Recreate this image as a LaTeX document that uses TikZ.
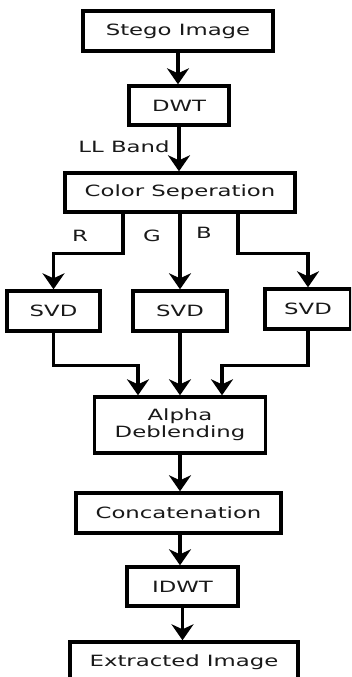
\documentclass[tikz,border=0pt]{standalone}
\usepackage{fontspec}
\usetikzlibrary{arrows.meta}
\newfontfamily\dfont[FakeStretch=1.47]{DejaVu Sans}
\begin{document}
\begin{tikzpicture}[x=1pt,y=-1pt,
  box/.style={draw=black,line width=3.4pt,fill=white,inner sep=0pt,align=center,
    font=\dfont\fontsize{15.5}{16}\selectfont,text=black!90},
  lbl/.style={font=\dfont\fontsize{15.5}{16}\selectfont,text=black!90,inner sep=0pt},
  arr/.style={line width=3.2pt,-{Stealth[length=16pt,width=22pt,inset=5pt]}}]
\useasboundingbox (0,0) rectangle (351,677);
\clip (0,0) rectangle (351,677);
\fill[white] (0,0) rectangle (351,677);
\node[box,minimum width=190pt,minimum height=40pt] (stego) at (178,31) {Stego Image};
\node[box,minimum width=100pt,minimum height=39pt] (dwt) at (179,105.5) {DWT};
\node[box,minimum width=230pt,minimum height=39pt] (cs) at (180,192.5) {Color Seperation};
\node[box,minimum width=93pt,minimum height=40pt] (svd1) at (53.5,311) {SVD};
\node[box,minimum width=94pt,minimum height=40pt] (svd2) at (180,311) {SVD};
\node[box,minimum width=86pt,minimum height=40pt] (svd3) at (308,309) {SVD};
\node[box,minimum width=171pt,minimum height=56pt] (alpha) at (180,425) {Alpha\\[1pt]Deblending};
\node[box,minimum width=205pt,minimum height=40pt] (concat) at (178.5,513) {Concatenation};
\node[box,minimum width=111pt,minimum height=39pt] (idwt) at (182.5,586.5) {IDWT};
\node[box,minimum width=228pt,minimum height=56pt,text depth=0pt] (extract) at (184,670) {};
\node[lbl] (extxt) at (184,662) {Extracted Image};
\node[lbl] (ll) at (124,147) {LL Band};
\node[lbl] (r) at (80,236) {R};
\node[lbl] (g) at (152,236) {G};
\node[lbl] (b) at (204,233) {B};
\draw[arr] (stego.south) -- (stego.south |- dwt.north);
\draw[arr] (dwt.south) -- (dwt.south |- cs.north);
\draw[arr] ([xshift=-57pt]cs.south) -- ++(0,-40pt) -| (svd1.north);
\draw[arr] (cs.south) -- (svd2.north);
\draw[arr] ([xshift=58pt]cs.south) -- ++(0,-40pt) -| (svd3.north);
\draw[arr] (svd1.south) -- ++(0,-33pt) -| ([xshift=-42pt]alpha.north);
\draw[arr] (svd2.south) -- (alpha.north);
\draw[arr] (svd3.south) -- ++(0,-35pt) -| ([xshift=42pt]alpha.north);
\draw[arr] (alpha.south) -- (alpha.south |- concat.north);
\draw[arr] ([xshift=1.5pt]concat.south) -- ([xshift=1.5pt]concat.south |- idwt.north);
\draw[arr] (idwt.south) -- (idwt.south |- extract.north);
\end{tikzpicture}
\end{document}
